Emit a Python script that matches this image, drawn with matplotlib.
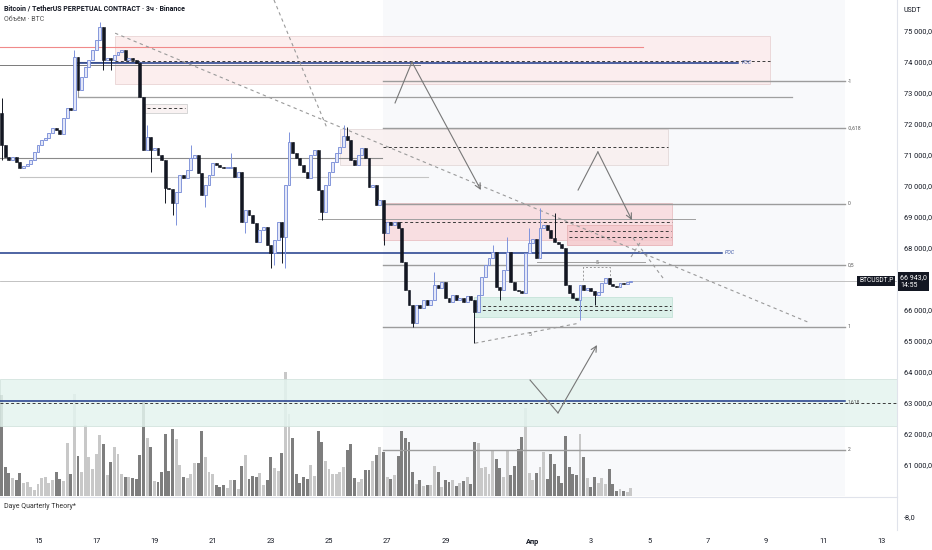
import matplotlib
matplotlib.use('Agg')
import matplotlib.pyplot as plt
from matplotlib.patches import Rectangle
from matplotlib.ticker import FuncFormatter

plt.rcParams['font.family'] = ['Roboto', 'DejaVu Sans']

# 3h candles, x = day of March (Apr 1 = 32)
t0 = 13.75
step = 0.125
first_open = 72350
closes = [
    71320, 70940, 70840, 70940, 70770, 70580, 70650, 70710, 70840, 71100,
    71320, 71480, 71550, 71710, 71870, 71810, 71680, 72190, 72520, 72450,
    74160, 73100, 73520, 73840, 74060, 74390, 74710, 75130, 74060, 74130,
    74060, 74230, 74320, 74390, 74060, 74130, 74060, 73970, 72870, 71160,
    71580, 71160, 71230, 71000, 70840, 69940, 69900, 69450, 69810, 70350,
    70260, 70520, 70900, 71000, 70420, 69710, 70030, 70350, 70740, 70680,
    70610, 70580, 70580, 70610, 70290, 70450, 68840, 69230, 69060, 68810,
    68190, 68580, 68680, 68100, 67840, 68260, 68840, 68350, 70030, 71420,
    71060, 70900, 70680, 70450, 70260, 71000, 71160, 69870, 69160, 70030,
    70450, 70770, 71060, 71260, 71610, 71480, 70840, 70680, 71000, 71230,
    70900, 69970, 70030, 69390, 69550, 68480, 68840, 68740, 68840, 68650,
    67550, 66650, 66160, 65580, 66160, 66060, 66320, 66160, 66320, 66810,
    66710, 66900, 66390, 66260, 66480, 66320, 66390, 66260, 66450, 66320,
    65940, 66480, 67060, 67450, 67680, 67870, 66740, 66650, 67290, 67870,
    66900, 66650, 66620, 66550, 67840, 68160, 68300, 67680, 68650, 68740,
    68580, 68320, 68190, 68130, 68000, 66810, 66550, 66390, 66320, 66810,
    66650, 66710, 66600, 66480, 66580, 66870, 67030, 66840, 66770, 66740,
    66870, 66840, 66900, 66943,
]
wick_hi = {0: 72840, 20: 74390, 27: 75290, 40: 71970, 52: 71320, 63: 71060,
           79: 71740, 94: 71970, 95: 71900, 119: 67230, 135: 68100,
           139: 68350, 145: 68650, 148: 69290, 152: 69130}
wick_lo = {0: 70840, 28: 73740, 30: 73740, 41: 70450, 45: 69450, 47: 69060,
           48: 68740, 56: 69320, 67: 68480, 74: 67350, 75: 67450, 77: 67520,
           78: 67350, 88: 68900, 105: 68100, 113: 65450, 130: 64930,
           137: 66320, 159: 65680, 163: 66160}
volume_k = [
    101, 29, 23, 18, 16, 23, 13, 14, 9, 6,
    12, 18, 19, 13, 16, 24, 17, 15, 53, 22,
    102, 40, 24, 71, 39, 27, 42, 61, 52, 21,
    34, 49, 42, 22, 19, 19, 18, 17, 41, 94,
    58, 49, 15, 14, 24, 62, 25, 67, 57, 31,
    19, 18, 22, 33, 33, 65, 39, 24, 22, 11,
    9, 11, 8, 16, 16, 7, 30, 41, 17, 20,
    19, 23, 11, 16, 39, 28, 25, 43, 124, 82,
    58, 22, 13, 19, 17, 31, 20, 65, 54, 35,
    27, 22, 22, 24, 29, 46, 52, 18, 14, 17,
    26, 26, 35, 41, 49, 44, 19, 17, 21, 40,
    65, 58, 54, 24, 12, 16, 10, 11, 11, 30,
    24, 9, 16, 14, 16, 10, 13, 15, 19, 12,
    54, 53, 28, 29, 22, 45, 37, 28, 19, 46,
    21, 30, 47, 59, 88, 23, 16, 23, 29, 44,
    17, 42, 32, 20, 13, 60, 29, 22, 21, 62,
    39, 18, 9, 19, 13, 18, 12, 27, 12, 5,
    7, 5, 4, 8,
]

date_ticks = [15, 17, 19, 21, 23, 25, 27, 29, 32, 34, 36, 38, 40, 42, 44]
date_labels = ['15', '17', '19', '21', '23', '25', '27', '29', 'Апр',
               '3', '5', '7', '9', '11', '13']
# 67 000 is hidden behind the last-price tag
price_ticks = [61000, 62000, 63000, 64000, 65000, 66000, 68000, 69000,
               70000, 71000, 72000, 73000, 74000, 75000]
last_price = 66943

fib_levels = [-1, -0.618, 0, 0.5, 1, 1.618, 2]
fib_labels = ['-1', '-0,618', '0', '0,5', '1', '1,618', '2']
fib_zero, fib_one = 69420, 65460
fib_start, fib_end = 26.86, 42.73

# zones: (x0, x1, low, high, face, edge)
zones = [
    (17.65, 40.15, 73290, 74840, '#fcebec', '#e9d3d4'),
    (25.38, 36.65, 70680, 71840, '#f8efef', '#e3d9d9'),
    (26.86, 36.79, 68260, 69450, '#f9dadd', '#e9c0c3'),
    (33.18, 36.79, 68100, 68740, '#f5c9cd', '#e7b2b6'),
    (29.98, 36.79, 65770, 66420, '#d6efe6', '#c4e3d8'),
    (13.69, 44.52, 62260, 63770, '#e4f4ef', '#d3e3de'),
    (18.68, 20.12, 72350, 72650, '#f8f0f0', '#cfcfcf'),
]
# solid levels: (price, x0, x1, colour, width)
solid_lines = [
    (74480, 13.69, 35.79, '#f08a8a', 0.8),
    (73900, 13.69, 28.13, '#7a7a7a', 0.7),
    (73970, 16.37, 39.05, '#1e3a8a', 1.1),
    (72870, 16.37, 40.91, '#a0a0a0', 0.9),
    (70900, 13.69, 26.82, '#8a8a8a', 0.8),
    (70290, 14.38, 28.40, '#c4c4c4', 0.8),
    (68930, 24.62, 37.58, '#a0a0a0', 0.7),
    (67840, 13.69, 38.51, '#1e3a8a', 1.1),
    (67550, 32.15, 35.86, '#a0a0a0', 0.7),
    (last_price, 13.69, 44.52, '#b8b8b8', 0.6),
    (63060, 13.69, 42.73, '#1e3a8a', 1.1),
]
dashed_lines = [
    (74030, 17.65, 40.15), (71260, 26.86, 36.65), (68840, 26.86, 36.79),
    (68550, 33.25, 36.75), (68350, 33.25, 36.75), (66130, 30.1, 36.75),
    (66000, 30.1, 36.75), (62990, 13.69, 44.52), (72520, 18.75, 20.05),
]
diag_x = [(23.11, 24.93), (17.65, 41.46), (35.45, 36.48), (35.38, 35.79), (30.02, 33.62)]
diag_y = [(76000, 71870), (74930, 65610), (68320, 67030), (67710, 68320), (64930, 65580)]
path_x = [[27.27, 27.85, 30.22], [33.56, 34.24, 35.41], [31.91, 32.87, 34.21]]
path_y = [[72680, 74000, 69870], [69870, 71100, 68900], [63740, 62680, 64870]]

W, H = 932, 550
fig = plt.figure(figsize=(W / 100, H / 100), dpi=100)
fig.patch.set_facecolor('white')
ax = fig.add_axes([0, 54 / H, 897 / W, 496 / H])
axv = ax.twinx()
ax.set_zorder(2)
axv.set_zorder(1)
ax.patch.set_visible(False)

xlim = (13.694, 44.52)
ax.set_xlim(*xlim)
ax.set_ylim(60000, 76000)
axv.set_ylim(0, 496)

times = [t0 + i * step for i in range(len(closes))]
opens = [first_open] + closes[:-1]
up = [c >= o for o, c in zip(opens, closes)]

# background shade of the projection area and volume
axv.axvspan(fib_start, fib_end, color='#f8f9fb', lw=0, zorder=0)
axv.bar(times, volume_k, width=0.1,
        color=['#c8c8c8' if u else '#7e7e7e' for u in up], lw=0, zorder=1)
axv.set_yticks([])
for s in axv.spines.values():
    s.set_visible(False)

for x0, x1, lo, hi, fc, ec in zones:
    ax.add_patch(Rectangle((x0, lo), x1 - x0, hi - lo, fc=fc, ec=ec, lw=0.7, alpha=0.85, zorder=1))
ax.add_patch(Rectangle((16.37, 72870), 2.14, 1130, fill=False, ec='#9a9a9a', lw=0.8, zorder=2))

for p, x0, x1, col, lw in solid_lines:
    ax.plot([x0, x1], [p, p], color=col, lw=lw, zorder=2)
for p, x0, x1 in dashed_lines:
    ax.plot([x0, x1], [p, p], color='#3a3a3a', lw=0.7, ls=(0, (3, 2.5)), zorder=2)

for lvl, lab in zip(fib_levels, fib_labels):
    p = fib_zero - lvl * (fib_zero - fib_one)
    if lvl != 1.618:
        ax.plot([fib_start, fib_end], [p, p], color='#9c9c9c', lw=1.0, zorder=2)
    ax.text(fib_end + 0.1, p, lab, fontsize=3.6, color='#555555', va='center', zorder=4)

ax.text(39.19, 73970, 'POC', fontsize=3.8, color='#3a55a4', style='italic', va='center')
ax.text(38.6, 67840, 'POC', fontsize=3.8, color='#3a55a4', style='italic', va='center')

for xs, ys in zip(diag_x, diag_y):
    ax.plot(xs, ys, color='#9a9a9a', lw=0.8, ls=(0, (3, 3)), zorder=2)
ax.plot([33.73, 33.73, 34.66, 34.66], [66970, 67390, 67390, 66970],
        color='#9a9a9a', lw=0.7, ls=(0, (2, 2)), zorder=2)
ax.text(34.2, 67450, '5', fontsize=3.8, color='#666666', ha='center', va='bottom')
ax.text(31.92, 65225, '5', fontsize=3.8, color='#666666', ha='center', va='center')

for xs, ys in zip(path_x, path_y):
    ax.plot(xs[:2], ys[:2], color='#777777', lw=0.8, zorder=3)
    ax.annotate('', xy=(xs[2], ys[2]), xytext=(xs[1], ys[1]),
                arrowprops=dict(arrowstyle='->', color='#777777', lw=0.8,
                                shrinkA=0, shrinkB=0), zorder=3)

# candles
for i, (t, o, c) in enumerate(zip(times, opens, closes)):
    hi = max(wick_hi.get(i, max(o, c)), max(o, c))
    lo = min(wick_lo.get(i, min(o, c)), min(o, c))
    body = max(abs(c - o), 25)
    if up[i]:
        ax.vlines(t, lo, hi, color='#7f93dc', lw=0.7, zorder=3)
        ax.bar(t, body, bottom=min(o, c), width=0.1, color='#e3e7f8',
               edgecolor='#7489d6', lw=0.6, zorder=4)
    else:
        ax.vlines(t, lo, hi, color='#131722', lw=0.7, zorder=3)
        ax.bar(t, body, bottom=min(o, c), width=0.1, color='#131722',
               edgecolor='#131722', lw=0.4, zorder=4)

ax.yaxis.tick_right()
ax.set_yticks(price_ticks)
ax.yaxis.set_major_formatter(FuncFormatter(lambda v, _: f'{int(v):,}'.replace(',', ' ') + ',0'))
ax.tick_params(axis='y', length=0, pad=5, labelsize=5.3, labelcolor='#131722')
ax.tick_params(axis='x', bottom=False, labelbottom=False)
for side in ['top', 'left', 'bottom']:
    ax.spines[side].set_visible(False)
ax.spines['right'].set_color('#e0e3eb')

ax.annotate(f'{last_price:,}'.replace(',', ' ') + ',0\n14:55', xy=(1, last_price),
            xycoords=('axes fraction', 'data'), xytext=(2.5, 5), textcoords='offset points',
            ha='left', va='top', fontsize=5, color='white', linespacing=1.3,
            bbox=dict(boxstyle='square,pad=0.3', fc='#131722', ec='none'),
            annotation_clip=False, zorder=6)
ax.annotate('BTCUSDT.P', xy=(1, last_price), xycoords=('axes fraction', 'data'),
            xytext=(-2.5, 0), textcoords='offset points', ha='right', va='center',
            fontsize=4.8, color='white',
            bbox=dict(boxstyle='square,pad=0.25', fc='#131722', ec='none'), zorder=6)

ax.text(0.005, 0.982, 'Bitcoin / TetherUS PERPETUAL CONTRACT · 3ч · Binance',
        transform=ax.transAxes, fontsize=5, weight='bold', color='#131722', va='center')
ax.text(0.005, 0.96, 'Объём · BTC', transform=ax.transAxes, fontsize=5,
        color='#555555', va='center')
fig.text(912 / W, 1 - 10 / H, 'USDT', fontsize=5, color='#131722', ha='center', va='center')

# indicator pane and time scale
axb = fig.add_axes([0, 20 / H, 897 / W, 33 / H])
axb.set_xlim(*xlim)
axb.set_ylim(-10.5, -4.5)
axb.set_xticks(date_ticks)
axb.set_xticklabels(date_labels)
for lab in axb.get_xticklabels():
    if lab.get_text() == 'Апр':
        lab.set_fontweight('bold')
axb.yaxis.tick_right()
axb.set_yticks([-8])
axb.set_yticklabels(['-8,0'])
axb.tick_params(axis='x', length=0, pad=5.5, labelsize=5.3, labelcolor='#131722')
axb.tick_params(axis='y', length=0, pad=5, labelsize=5.3, labelcolor='#131722')
for side in ['left', 'bottom']:
    axb.spines[side].set_visible(False)
axb.spines['top'].set_color('#e0e3eb')
axb.spines['right'].set_color('#e0e3eb')
axb.text(0.005, 0.72, 'Daye Quarterly Theory*', transform=axb.transAxes,
         fontsize=5, color='#333333', va='center')

fig.savefig('out.png', dpi=100, facecolor='white')
